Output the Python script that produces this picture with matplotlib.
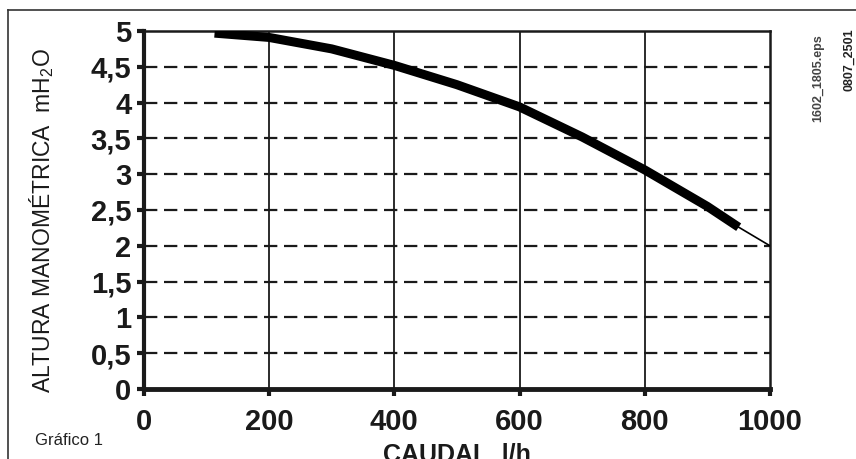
import matplotlib
matplotlib.use("Agg")
import matplotlib.pyplot as plt
from matplotlib.lines import Line2D

## Curva caudal / altura
caudal = [113, 200, 300, 400, 500, 600, 700, 800, 900, 950]
altura = [4.97, 4.91, 4.75, 4.52, 4.25, 3.94, 3.52, 3.06, 2.55, 2.26]
caudal_fin = [950, 1000]
altura_fin = [2.26, 2.0]

xticks = [0, 200, 400, 600, 800, 1000]
yticks = [0, 0.5, 1, 1.5, 2, 2.5, 3, 3.5, 4, 4.5, 5]
ylabels = ["0", "0,5", "1", "1,5", "2", "2,5", "3", "3,5", "4", "4,5", "5"]

plt.rcParams['font.family'] = ['Liberation Sans', 'DejaVu Sans']
plt.rcParams['mathtext.fontset'] = 'custom'
plt.rcParams['mathtext.rm'] = 'Liberation Sans'

fig = plt.figure(figsize=(8.56, 4.59), dpi=100)
ax = fig.add_axes([0.168, 0.1525, 0.7315, 0.78])

# rejilla
for x in xticks[1:-1]:
    ax.axvline(x, color='#1a1a1a', lw=1.3, zorder=1)
for y in yticks[1:-1]:
    ax.axhline(y, color='#1a1a1a', lw=1.6, ls=(0, (6, 3)), zorder=1)

ax.plot(caudal, altura, color='black', lw=6.5, solid_capstyle='butt', zorder=3)
ax.plot(caudal_fin, altura_fin, color='black', lw=1.2, zorder=3)

ax.set_xlim(0, 1000)
ax.set_ylim(0, 5)
ax.set_xticks(xticks)
ax.set_yticks(yticks)
ax.set_yticklabels(ylabels)
ax.tick_params(axis='both', direction='out', length=5, width=3, color='#1a1a1a',
               labelsize=21)
ax.tick_params(axis='y', pad=4)
ax.tick_params(axis='x', pad=9)
for lab in ax.get_xticklabels() + ax.get_yticklabels():
    lab.set_fontweight('bold')
    lab.set_color('#1a1a1a')

ax.spines['left'].set_linewidth(3)
ax.spines['bottom'].set_linewidth(3.5)
ax.spines['right'].set_linewidth(1.8)
ax.spines['top'].set_linewidth(1.8)
for s in ax.spines.values():
    s.set_color('#1a1a1a')

ax.set_ylabel("ALTURA MANOMÉTRICA  mH$_\\mathrm{2}$O", fontsize=16.5, labelpad=4,
              color='#1a1a1a')
ax.yaxis.set_label_coords(-0.14, 0.47)
ax.set_xlabel("CAUDAL  l/h", fontsize=18, fontweight='bold', labelpad=4,
              color='#1a1a1a')

fig.text(0.041, 0.03, "Gráfico 1", fontsize=12, color='#222222')
fig.text(0.956, 0.83, "1602_1805.eps", rotation=90, fontsize=9, fontweight='bold',
         color='#444444', ha='center', va='center')
fig.text(0.992, 0.87, "0807_2501", rotation=90, fontsize=9, fontweight='bold',
         color='#222222', ha='center', va='center')

# marco exterior
fig.add_artist(Line2D([0.0095, 1.0], [0.978, 0.978], transform=fig.transFigure,
                      color='#333333', lw=1.2))
fig.add_artist(Line2D([0.0095, 0.0095], [0.0, 0.978], transform=fig.transFigure,
                      color='#333333', lw=1.2))

fig.savefig("out.png", dpi=100)
